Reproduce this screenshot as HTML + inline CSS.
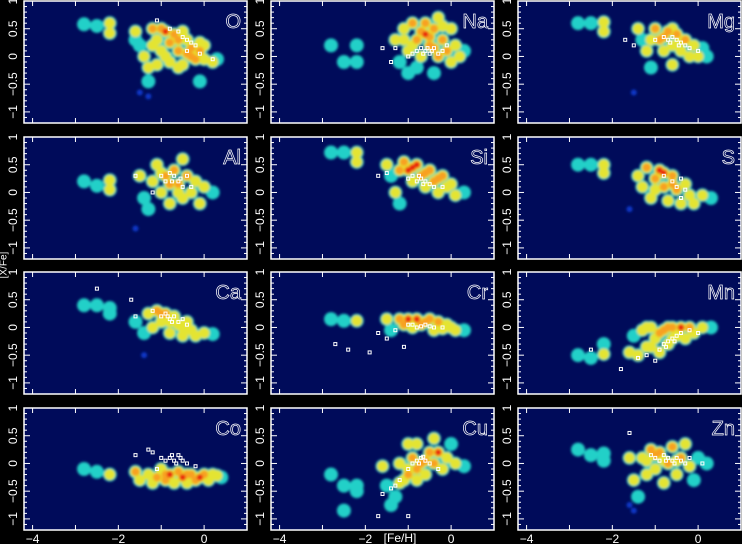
<!DOCTYPE html>
<html><head><meta charset="utf-8"><style>
html,body{margin:0;padding:0;background:#000;}
svg{display:block;}
text{font-family:"Liberation Sans",sans-serif;}
</style></head><body>
<svg id="chart" width="742" height="544" viewBox="0 0 742 544" xmlns="http://www.w3.org/2000/svg">
<defs><filter id="blur" x="-20%" y="-20%" width="140%" height="140%"><feGaussianBlur stdDeviation="1.4"/></filter></defs>
<rect x="0" y="0" width="742" height="544" fill="#000"/>
</svg>
<script>
// element names per panel
const elements = ["O","Na","Mg","Al","Si","S","Ca","Cr","Mn","Co","Cu","Zn"];
// density blobs: [Fe/H, X/Fe, level 0=blue,1=cyan,2=yellow,3=orange,4=red]
const blobsO = [[-2.8,0.58,1],[-2.5,0.55,1],[-2.2,0.6,2],[-2.2,0.42,2],[-1.6,0.45,2],[-1.6,0.3,1],[-1.5,0.2,1],[-1.4,0.0,2],[-1.3,-0.2,2],[-1.2,0.5,3],[-1.1,0.3,2],[-1.0,0.1,2],[-0.9,0.45,4],[-0.8,0.25,3],[-0.8,-0.1,2],[-0.7,0.4,3],[-0.6,0.1,3],[-0.5,-0.15,2],[-0.4,0.3,2],[-0.4,0.05,3],[-0.3,0.15,3],[-0.2,-0.05,3],[-0.1,0.1,3],[0.0,0.2,2],[0.0,-0.05,2],[0.2,-0.1,2],[0.3,-0.05,1],[-1.3,-0.45,1],[-0.1,-0.45,1],[-1.5,-0.65,0],[-1.3,-0.72,0],[-1.0,0.5,3],[-0.6,0.3,3],[-0.3,0.0,3],[-1.2,0.2,2],[-0.9,0.0,2],[-0.5,0.45,2],[-0.1,0.25,2],[-0.6,-0.2,2],[-1.1,-0.15,2]];
const blobsNa = [[-2.8,0.2,1],[-2.5,-0.1,1],[-2.2,0.2,1],[-2.2,-0.1,1],[-1.3,0.3,2],[-1.2,-0.1,1],[-1.1,0.5,2],[-1.0,0.1,2],[-1.0,-0.3,1],[-0.9,0.6,3],[-0.8,0.3,3],[-0.7,0.0,2],[-0.6,0.6,3],[-0.6,0.4,4],[-0.5,0.2,3],[-0.4,0.5,3],[-0.3,0.0,3],[-0.3,0.7,2],[-0.2,0.3,3],[-0.1,0.1,3],[0.0,0.5,2],[0.0,-0.1,2],[0.1,0.2,2],[0.2,0.0,2],[0.3,0.1,1],[-0.8,-0.2,1],[-0.4,-0.3,1],[-0.7,0.45,3],[-0.5,0.35,3],[-0.9,0.2,2],[-0.4,0.15,3],[-1.1,0.3,2],[-0.2,0.55,2]];
const blobsMg = [[-2.8,0.6,1],[-2.5,0.6,1],[-2.2,0.62,2],[-2.2,0.45,2],[-1.4,0.5,2],[-1.3,0.3,1],[-1.2,0.1,2],[-1.1,-0.2,1],[-1.0,0.5,3],[-0.9,0.3,3],[-0.8,0.1,2],[-0.7,0.45,3],[-0.6,0.2,2],[-0.6,-0.15,2],[-0.5,0.4,3],[-0.4,0.1,2],[-0.3,0.3,3],[-0.2,0.0,2],[-0.1,0.2,2],[0.0,0.0,2],[0.1,0.15,1],[0.2,0.0,1],[-1.5,-0.65,0],[-0.8,0.35,3],[-1.1,0.3,2],[-0.4,0.3,2],[-0.6,0.5,2]];
const blobsAl = [[-2.8,0.2,1],[-2.5,0.12,1],[-2.2,0.22,2],[-2.2,0.05,2],[-1.5,0.3,2],[-1.4,-0.1,1],[-1.3,-0.3,1],[-1.2,0.2,2],[-1.1,0.5,2],[-1.0,0.0,2],[-0.9,0.3,3],[-0.8,-0.2,2],[-0.7,0.4,3],[-0.6,0.15,3],[-0.5,0.6,2],[-0.5,-0.1,2],[-0.4,0.3,3],[-0.3,0.0,2],[-0.2,0.2,2],[-0.1,-0.2,2],[0.0,0.1,2],[0.2,0.0,1],[-1.6,-0.65,0],[-0.8,0.15,3],[-1.0,0.35,2],[-0.6,0.0,2]];
const blobsSi = [[-2.8,0.72,1],[-2.5,0.72,1],[-2.2,0.72,2],[-2.2,0.55,2],[-1.5,0.5,2],[-1.4,0.3,1],[-1.3,0.0,2],[-1.2,-0.2,1],[-1.1,0.55,3],[-1.0,0.4,4],[-0.9,0.2,2],[-0.8,0.5,4],[-0.7,0.3,3],[-0.6,0.1,2],[-0.5,0.4,3],[-0.4,0.2,3],[-0.3,0.0,2],[-0.2,0.3,3],[-0.1,0.1,2],[0.0,0.15,2],[0.1,-0.05,2],[0.3,0.0,1],[-0.9,0.45,4],[-0.6,0.35,3],[-1.2,0.4,3],[-0.3,0.25,3]];
const blobsS = [[-2.8,0.5,1],[-2.5,0.5,1],[-2.2,0.5,2],[-2.2,0.35,2],[-1.4,0.3,2],[-1.3,0.1,2],[-1.2,0.45,3],[-1.1,-0.1,2],[-1.0,0.25,3],[-0.9,0.4,4],[-0.8,0.1,3],[-0.7,-0.15,2],[-0.6,0.3,3],[-0.5,0.05,3],[-0.4,-0.2,2],[-0.3,0.15,2],[-0.2,-0.05,2],[-0.1,-0.2,2],[0.1,-0.05,2],[0.3,-0.1,1],[-1.6,-0.3,0],[-0.8,0.35,4],[-0.6,0.15,3],[-1.0,0.05,2]];
const blobsCa = [[-2.8,0.4,1],[-2.5,0.4,1],[-2.2,0.35,1],[-2.2,0.25,1],[-1.6,0.1,1],[-1.4,-0.1,1],[-1.3,0.25,2],[-1.2,0.0,2],[-1.1,0.3,3],[-1.0,0.1,2],[-0.9,0.25,3],[-0.8,-0.1,2],[-0.7,0.2,2],[-0.6,0.05,2],[-0.5,-0.15,2],[-0.4,0.1,2],[-0.3,-0.05,2],[-0.2,-0.15,2],[0.0,-0.1,2],[0.2,-0.12,1],[-1.4,-0.5,0],[-1.0,0.25,3],[-0.8,0.1,2],[-0.5,0.0,2]];
const blobsCr = [[-2.8,0.15,1],[-2.5,0.12,1],[-2.2,0.12,2],[-1.5,0.15,2],[-1.4,-0.05,1],[-1.2,0.15,3],[-1.0,0.15,4],[-0.9,0.0,2],[-0.8,0.15,4],[-0.6,0.1,3],[-0.5,0.15,3],[-0.4,-0.05,2],[-0.3,0.1,3],[-0.1,0.05,2],[0.1,-0.05,2],[0.3,-0.05,1],[-1.1,0.05,3],[-0.7,0.05,3],[-0.2,-0.02,2],[0.0,0.0,2]];
const blobsMn = [[-2.8,-0.5,1],[-2.5,-0.55,1],[-2.2,-0.3,1],[-2.2,-0.48,2],[-1.6,-0.45,2],[-1.5,-0.15,1],[-1.4,-0.5,2],[-1.3,-0.05,2],[-1.2,-0.35,2],[-1.1,0.0,2],[-1.0,-0.2,2],[-0.9,-0.45,2],[-0.8,-0.05,3],[-0.7,-0.3,2],[-0.6,0.0,3],[-0.5,-0.15,2],[-0.4,0.0,4],[-0.3,-0.2,2],[-0.2,0.0,3],[-0.1,-0.1,2],[0.1,0.0,2],[0.3,0.0,1],[-1.2,0.0,2],[-0.9,-0.1,3],[-0.7,0.0,3],[-1.1,-0.35,2],[-0.6,-0.2,2]];
const blobsCo = [[-2.8,-0.1,1],[-2.5,-0.15,1],[-2.2,-0.2,2],[-1.6,-0.15,3],[-1.5,-0.3,2],[-1.3,-0.2,2],[-1.1,-0.25,3],[-1.0,-0.1,2],[-0.9,-0.3,3],[-0.8,-0.2,4],[-0.7,-0.35,2],[-0.6,-0.15,3],[-0.5,-0.25,4],[-0.4,-0.35,2],[-0.3,-0.2,3],[-0.2,-0.3,3],[-0.1,-0.25,4],[0.0,-0.2,3],[0.1,-0.3,2],[0.2,-0.2,2],[0.4,-0.25,1],[-1.2,-0.35,2],[-0.9,-0.2,3],[-0.4,-0.2,3],[0.3,-0.22,2]];
const blobsCu = [[-2.8,-0.2,1],[-2.5,-0.4,1],[-2.5,-0.85,1],[-2.2,-0.4,1],[-2.2,-0.5,1],[-1.6,-0.05,2],[-1.5,-0.4,1],[-1.4,-0.75,1],[-1.3,-0.6,1],[-1.2,0.0,2],[-1.1,-0.3,2],[-1.0,0.35,2],[-1.0,-0.1,2],[-0.9,0.1,3],[-0.8,-0.3,2],[-0.8,0.35,2],[-0.7,0.0,3],[-0.6,-0.2,2],[-0.5,0.2,3],[-0.4,0.0,3],[-0.4,0.45,2],[-0.3,0.2,4],[-0.2,-0.1,2],[-0.1,0.1,2],[0.0,0.35,1],[0.1,0.0,2],[0.3,-0.05,1],[-1.0,-0.2,3],[-0.6,0.05,3],[-0.8,-0.1,3],[-1.2,-0.35,2]];
const blobsZn = [[-2.8,0.25,1],[-2.5,0.15,1],[-2.2,0.18,1],[-2.2,0.05,1],[-1.6,0.1,2],[-1.5,-0.3,2],[-1.4,-0.6,1],[-1.3,0.1,2],[-1.2,-0.2,2],[-1.1,0.25,3],[-1.0,-0.1,2],[-0.9,0.2,3],[-0.8,-0.35,2],[-0.7,0.0,3],[-0.6,0.3,3],[-0.5,-0.2,2],[-0.4,0.1,3],[-0.3,0.35,2],[-0.2,-0.05,2],[-0.1,-0.3,1],[0.0,0.1,1],[0.2,0.0,1],[-1.6,-0.75,0],[-1.5,-0.85,0],[-1.0,0.15,3],[-0.8,0.05,2],[-0.5,0.05,2],[-1.2,0.05,2]];
const blobs = [blobsO,blobsNa,blobsMg,blobsAl,blobsSi,blobsS,blobsCa,blobsCr,blobsMn,blobsCo,blobsCu,blobsZn];
// white star markers [Fe/H, X/Fe]
const starsO = [[-1.1,0.65],[-0.8,0.5],[-0.6,0.45],[-0.5,0.35],[-0.4,0.3],[-0.3,0.25],[-0.2,0.2],[-0.4,0.1],[-0.1,0.05],[0.2,-0.05]];
const starsNa = [[-1.3,0.15],[-1.0,0.0],[-0.9,0.05],[-0.8,0.1],[-0.7,0.15],[-0.6,0.1],[-0.5,0.05],[-0.4,0.15],[-0.3,0.05],[-0.2,0.1],[-0.1,0.2],[-1.4,-0.1],[-1.6,0.15],[-0.65,0.05],[-0.45,0.1],[-0.55,0.15]];
const starsMg = [[-1.7,0.3],[-1.5,0.2],[-1.0,0.3],[-0.8,0.35],[-0.7,0.3],[-0.6,0.35],[-0.5,0.3],[-0.4,0.25],[-0.3,0.2],[-0.2,0.15],[0.0,0.1],[-0.65,0.25],[-0.45,0.2]];
const starsAl = [[-1.6,0.3],[-1.0,0.3],[-0.9,0.2],[-0.8,0.35],[-0.7,0.3],[-0.6,0.2],[-0.5,0.1],[-0.4,0.3],[-0.3,0.1],[-1.2,0.0],[-0.75,0.2],[-0.55,0.25]];
const starsSi = [[-1.7,0.3],[-1.5,0.35],[-1.0,0.25],[-0.9,0.3],[-0.8,0.2],[-0.7,0.25],[-0.6,0.2],[-0.5,0.15],[-0.4,0.1],[-0.2,0.1],[-0.75,0.3],[-0.65,0.15]];
const starsS = [[-0.6,0.2],[-0.5,0.1],[-0.4,0.25],[-0.3,0.05],[-0.4,-0.1],[-0.8,0.3]];
const starsCa = [[-2.5,0.7],[-1.7,0.5],[-1.6,0.2],[-1.2,0.3],[-1.0,0.2],[-0.9,0.25],[-0.8,0.15],[-0.7,0.2],[-0.6,0.1],[-0.5,0.15],[-0.4,0.05],[-0.85,0.2],[-0.75,0.1]];
const starsCr = [[-2.7,-0.3],[-2.4,-0.4],[-1.9,-0.45],[-1.7,-0.1],[-1.5,-0.2],[-1.3,-0.05],[-1.0,0.05],[-0.8,0.0],[-0.6,0.05],[-0.4,0.0],[-0.2,0.0],[-1.1,-0.35],[-0.9,0.05],[-0.7,0.02],[-0.5,0.02]];
const starsMn = [[-2.5,-0.4],[-1.8,-0.75],[-1.4,-0.55],[-1.2,-0.5],[-1.0,-0.6],[-0.9,-0.4],[-0.8,-0.3],[-0.7,-0.25],[-0.6,-0.2],[-0.5,-0.15],[-0.4,-0.1],[-0.2,-0.05],[0.0,-0.1],[-0.75,-0.35],[-0.55,-0.25]];
const starsCo = [[-1.6,0.15],[-1.3,0.25],[-1.2,0.2],[-1.0,0.1],[-0.9,0.05],[-0.8,0.1],[-0.7,0.05],[-0.6,0.15],[-0.5,0.05],[-0.4,0.0],[-0.2,-0.05],[-1.1,-0.1],[-0.75,0.15],[-0.65,0.0],[-0.55,0.1]];
const starsCu = [[-1.7,-0.95],[-1.6,-0.55],[-1.4,-0.45],[-1.3,-0.4],[-1.2,-0.3],[-1.0,-0.1],[-0.9,0.0],[-0.8,0.05],[-0.7,0.1],[-0.6,0.05],[-0.5,0.0],[-0.3,-0.1],[-1.0,-0.95],[-0.75,0.0],[-0.65,0.12]];
const starsZn = [[-1.6,0.55],[-1.1,0.15],[-1.0,0.1],[-0.9,0.05],[-0.8,0.15],[-0.7,0.1],[-0.6,0.05],[-0.5,0.1],[-0.4,0.05],[-0.3,0.0],[-0.2,0.1],[0.1,0.0],[-0.75,0.05],[-0.55,0.0]];
const stars = [starsO,starsNa,starsMg,starsAl,starsSi,starsS,starsCa,starsCr,starsMn,starsCo,starsCu,starsZn];
const xTicks = [-4,-2,0];
const yTicks = [1,0.5,0,-0.5,-1];
const yTickLabels = ["1","0.5","0","\u22120.5","\u22121"];
const xTickLabels = ["\u22124","\u22122","0"];

const NS = "http://www.w3.org/2000/svg";
const svg = document.getElementById("chart");
const colX = [24, 271, 518], rowY = [1, 137, 272, 408], PW = 223, PH = 122;
const XMIN = -4.2, XMAX = 1.0, YMIN = -1.2, YMAX = 1.0;
const colors = ["#1038c8","#20d0c8","#e4e430","#f8a020","#e82010"];
function mk(tag, attrs, parent){ const e = document.createElementNS(NS, tag); for (const k in attrs) e.setAttribute(k, attrs[k]); (parent||svg).appendChild(e); return e; }

elements.forEach((el, i) => {
  const c = i % 3, r = Math.floor(i / 3);
  const x0 = colX[c], y0 = rowY[r];
  const sx = v => x0 + (v - XMIN) / (XMAX - XMIN) * PW;
  const sy = v => y0 + (YMAX - v) / (YMAX - YMIN) * PH;
  const g = mk("g", {});
  
  
  const bg = mk("rect", {x:x0, y:y0, width:PW, height:PH, fill:"#000b5a"}, g);
  
  
  const dens = mk("g", {filter:"url(#blur)"}, g);
  
  
  const pts = blobs[i];
  const layers = [[1,7],[2,5.5],[3,4],[4,3]];
  pts.forEach(p => {
    if (p[2] === 0) {
      const cc = mk("circle", {cx:sx(p[0]), cy:sy(p[1]), r:3, fill:colors[0]}, dens);
      
      
    }
  });
  layers.forEach(([lv, rad]) => {
    pts.forEach(p => {
      if (p[2] >= lv) {
        const cc = mk("circle", {cx:sx(p[0]), cy:sy(p[1]), r:rad, fill:colors[lv]}, dens);
        
        
      }
    });
  });
  stars[i].forEach(p => {
    const s = mk("rect", {x:sx(p[0])-1.5, y:sy(p[1])-1.5, width:3, height:3, fill:"none", stroke:"#fff", "stroke-width":1}, g);
    
    
  });
  for (let t = -4; t <= 1; t++) {
    mk("line", {x1:sx(t), x2:sx(t), y1:y0, y2:y0+5, stroke:"#fff"}, g);
    mk("line", {x1:sx(t), x2:sx(t), y1:y0+PH, y2:y0+PH-5, stroke:"#fff"}, g);
  }
  for (let k = -12; k <= 10; k++) {
    const v = k / 10, len = (k % 5 === 0) ? 6 : 3;
    mk("line", {x1:x0, x2:x0+len, y1:sy(v), y2:sy(v), stroke:"#fff"}, g);
    mk("line", {x1:x0+PW, x2:x0+PW-len, y1:sy(v), y2:sy(v), stroke:"#fff"}, g);
  }
  const fr = mk("rect", {x:x0, y:y0, width:PW, height:PH, fill:"none", stroke:"#fff", "stroke-width":1.5}, g);
  
  
  const lab = mk("text", {x:x0+PW-6, y:y0+27, "text-anchor":"end", "font-size":20, fill:"none", stroke:"#fff", "stroke-width":0.7}, g);
  lab.textContent = el;
  
  
  yTicks.forEach((v, k) => {
    const tx = x0 - 11, ty = sy(v);
    const t = mk("text", {x:tx, y:ty, "font-size":12, fill:"#fff", "text-anchor":"middle", transform:`rotate(-90 ${tx} ${ty})`, "dominant-baseline":"central"}, g);
    t.textContent = yTickLabels[k];
    
    
  });
  if (r === 3) {
    xTicks.forEach((v, k) => {
      const t = mk("text", {x:sx(v), y:y0+PH+13, "font-size":12, fill:"#fff", "text-anchor":"middle"}, g);
      t.textContent = xTickLabels[k];
      
      
    });
  }
});
const xt = mk("text", {x:400, y:542, "font-size":12, fill:"#fff", "text-anchor":"middle"});
xt.textContent = "[Fe/H]";


const yt = mk("text", {x:4, y:265, "font-size":10, fill:"#fff", "text-anchor":"middle", transform:"rotate(-90 4 265)", "dominant-baseline":"central"});
yt.textContent = "[X/Fe]";


</script>
</body></html>
